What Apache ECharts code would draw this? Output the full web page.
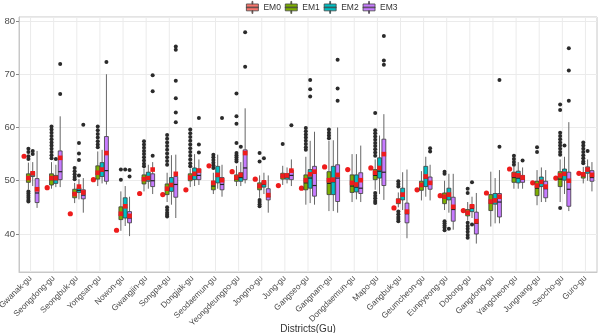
<!DOCTYPE html>
<html>
<head>
<meta charset="utf-8">
<script src="https://cdn.jsdelivr.net/npm/echarts@6/dist/echarts.min.js"></script>
<style>
  html, body { margin: 0; padding: 0; background: #fff; }
  #boxChart { width: 599px; height: 333px; }
</style>
</head>
<body>
<div id="boxChart"></div>
<script>
  const districts = ['Gwanak-gu', 'Seongdong-gu', 'Seongbuk-gu', 'Yongsan-gu', 'Nowon-gu', 'Gwangjin-gu',
    'Songpa-gu', 'Dongjak-gu', 'Seodaemun-gu', 'Yeongdeungpo-gu', 'Jongno-gu', 'Jung-gu', 'Gangseo-gu',
    'Gangnam-gu', 'Dongdaemun-gu', 'Mapo-gu', 'Gangbuk-gu', 'Geumcheon-gu', 'Eunpyeong-gu', 'Dobong-gu',
    'Gangdong-gu', 'Yangcheon-gu', 'Jungnang-gu', 'Seocho-gu', 'Guro-gu']
  const yTicks = [40, 50, 60, 70, 80]

  // EM0 is a single value per district (red dot)
  const em0Values = [54.6, 48.7, 43.8, 50.2, 40.7, 47.6, 47.4, 48.3, 52.8, 51.7, 50.3, 49.1, 48.6,
    52.6, 52.1, 52.4, 44.9, 48.3, 47.2, 44.4, 47.7, 52.2, 49.6, 50.5, 51.4]

  // [lower whisker, Q1, median, Q3, upper whisker]
  const em1Box = [
    [48.3, 49.7, 50.4, 51.3, 53.4], [48.5, 49.2, 50.2, 51.3, 53.5], [45.8, 46.8, 47.6, 48.4, 49.6],
    [49.0, 50.3, 51.3, 52.8, 55.5], [40.6, 42.7, 43.6, 45.1, 48.0], [48.0, 49.4, 50.2, 51.1, 52.3],
    [46.0, 47.4, 48.2, 49.4, 51.5], [48.8, 50.0, 50.6, 51.3, 52.3], [47.5, 48.3, 49.0, 49.9, 51.5],
    [49.0, 49.9, 50.3, 51.1, 52.8], [46.8, 48.3, 48.8, 49.6, 51.0], [49.2, 50.3, 50.8, 51.4, 52.8],
    [45.5, 48.3, 49.6, 51.1, 54.5], [44.3, 47.4, 49.5, 51.7, 57.5], [46.0, 47.8, 49.0, 51.1, 55.0],
    [48.3, 50.2, 51.0, 52.1, 54.0], [45.0, 45.7, 46.1, 46.6, 47.8], [46.3, 48.2, 49.0, 49.9, 51.8],
    [44.5, 45.7, 46.7, 47.7, 50.0], [42.5, 43.4, 44.0, 44.6, 46.0], [41.4, 44.4, 45.8, 47.4, 51.7],
    [48.5, 49.7, 50.6, 51.6, 52.8], [45.4, 47.2, 48.6, 49.9, 52.0], [46.0, 48.9, 50.3, 51.7, 54.0],
    [49.5, 50.5, 50.9, 51.4, 52.6]]
  const em1Mean = [50.5, 50.5, 47.5, 51.5, 43.8, 50.3, 48.5, 50.6, 49.6, 50.6, 49.0, 50.9, 50.1,
    50.1, 49.6, 51.5, 46.2, 49.2, 47.0, 44.0, 46.1, 51.1, 49.1, 51.0, 51.2]
  const em1Outliers = [
    [56.0, 55.4, 54.6, 54.1, 48.0, 47.6, 47.2, 46.8, 46.4, 46.1],
    [60.2, 59.6, 59.0, 58.4, 57.8, 57.2, 56.6, 56.0, 55.4, 54.8, 54.2],
    [52.4, 51.8, 51.2, 50.7, 50.3],
    [60.2, 59.5, 58.8, 58.1, 57.4, 56.8, 56.3],
    [52.1, 50.2],
    [57.4, 56.8, 56.2, 55.6, 55.0, 54.4, 53.8, 53.2, 52.7],
    [58.6, 57.9, 57.2, 56.5, 55.8, 55.1, 54.4, 53.7, 53.0, 45.0, 44.5, 44.0, 43.6, 43.3],
    [59.6, 58.9, 58.2, 57.5, 56.8, 56.1, 55.4, 54.7, 54.0, 53.3, 52.7],
    [54.9, 54.4, 53.9, 53.4, 52.9, 52.4],
    [66.4, 62.1, 60.7, 57.1, 55.2, 54.8, 54.4, 54.0, 53.6],
    [55.2, 53.6, 46.4, 46.0, 45.6, 45.2],
    [56.9],
    [59.9, 59.3, 58.7, 58.1, 57.5, 56.9, 56.3, 55.8],
    [59.6, 59.0, 58.5, 58.0],
    [],
    [62.7, 59.5, 58.9, 58.3, 57.7, 57.1, 56.5, 55.9, 55.3, 54.7, 47.7, 47.2, 46.7, 46.2, 45.8],
    [49.9, 49.4, 48.9, 44.2, 43.7, 43.2, 42.8, 42.4],
    [],
    [51.7, 51.3, 42.4, 42.0, 41.6, 41.2, 40.7],
    [48.5, 47.7, 42.1, 41.5, 41.0, 40.4, 39.8, 39.3],
    [],
    [54.7, 54.1, 53.5, 53.0],
    [56.3, 55.4],
    [64.3, 63.3, 59.0, 58.4, 57.8, 57.2, 56.6, 56.0, 55.4, 54.9, 44.9],
    [57.2, 56.6, 56.0, 55.4, 54.8, 54.2, 53.6, 53.3]]

  const em2Box = [
    [49.0, 50.8, 51.2, 51.7, 53.5], [48.8, 49.5, 50.2, 51.0, 53.0], [46.5, 47.8, 48.2, 48.7, 50.3],
    [49.5, 50.8, 51.8, 53.4, 55.8], [41.5, 43.0, 45.0, 46.8, 49.0], [48.5, 49.9, 50.6, 51.6, 53.0],
    [45.5, 48.0, 49.0, 50.6, 54.8], [49.0, 50.2, 51.0, 52.4, 55.0], [48.5, 49.6, 50.8, 52.7, 54.9],
    [49.0, 49.9, 50.6, 51.5, 53.5], [47.5, 48.8, 49.3, 49.9, 51.5], [49.5, 50.3, 50.7, 51.3, 52.5],
    [45.8, 48.6, 50.5, 52.1, 57.5], [44.3, 47.4, 49.8, 52.7, 57.6], [46.5, 47.9, 48.8, 51.1, 55.0],
    [47.5, 50.5, 51.8, 54.3, 58.5], [44.5, 46.4, 47.2, 48.6, 51.6], [47.0, 48.9, 50.5, 52.7, 54.5],
    [44.0, 46.4, 47.2, 48.6, 51.3], [43.0, 44.2, 44.8, 45.5, 47.0], [42.0, 45.6, 46.5, 47.6, 50.5],
    [48.5, 49.6, 50.5, 51.8, 53.5], [46.0, 48.9, 49.6, 50.7, 52.5], [47.5, 50.1, 51.0, 52.2, 54.5],
    [50.0, 51.4, 51.9, 52.6, 54.0]]
  const em2Mean = [51.4, 50.5, 48.9, 52.1, 45.2, 50.5, 49.2, 51.3, 51.1, 51.1, 49.7, 51.0, 51.2,
    50.2, 49.3, 52.4, 47.4, 50.8, 47.4, 45.2, 46.3, 51.0, 49.8, 51.3, 52.1]
  const em2Outliers = [
    [55.6, 55.0], [54.1], [57.1, 55.1, 53.9, 51.0], [], [52.1], [], [], [], [], [56.4], [54.2], [],
    [68.9, 67.2, 65.8], [], [], [], [], [], [41.0], [49.7, 41.8], [], [], [], [56.6], [55.6]]

  const em3Box = [
    [44.9, 45.9, 47.7, 50.4, 55.6], [48.8, 50.2, 51.7, 55.6, 62.1], [44.0, 46.6, 47.3, 48.3, 50.5],
    [49.3, 49.9, 51.9, 58.3, 70.0], [39.6, 42.1, 43.0, 44.2, 47.0], [47.5, 48.9, 50.0, 51.3, 53.5],
    [43.0, 46.9, 49.3, 50.8, 54.9], [49.2, 50.2, 51.0, 52.2, 54.0], [47.0, 48.3, 49.3, 50.6, 53.0],
    [49.5, 50.2, 52.4, 55.8, 63.6], [44.0, 46.4, 47.0, 48.5, 51.0], [49.0, 50.2, 51.0, 52.0, 54.0],
    [45.5, 47.1, 49.1, 52.7, 59.2], [44.0, 46.1, 50.5, 53.0, 60.0], [46.0, 47.6, 48.6, 51.5, 56.6],
    [46.4, 49.1, 51.6, 57.8, 62.5], [39.2, 42.1, 43.8, 45.8, 52.1], [46.3, 48.4, 49.6, 50.7, 53.0],
    [40.8, 42.4, 44.6, 46.9, 51.3], [38.2, 40.0, 42.0, 44.1, 47.7], [42.0, 43.2, 46.0, 47.6, 52.0],
    [48.5, 49.7, 50.3, 51.0, 52.5], [46.0, 46.8, 48.5, 49.9, 52.0], [44.3, 45.2, 48.4, 51.6, 61.0],
    [48.0, 49.9, 50.6, 51.9, 53.5]]
  const em3Mean = [48.4, 54.3, 47.8, 55.2, 43.4, 52.1, 51.3, 51.9, 50.1, 55.2, 47.3, 51.9, 51.7,
    51.1, 50.1, 55.0, 44.2, 49.6, 45.1, 42.4, 47.0, 50.6, 48.9, 50.0, 51.1]
  const em3Outliers = [
    [], [71.9, 66.3], [60.5], [72.3], [52.0, 50.8], [69.8, 66.8, 54.7],
    [75.2, 74.6, 68.8, 65.5, 62.8, 61.0], [61.8, 56.8, 55.3], [61.8], [77.9, 71.4], [], [60.4], [],
    [72.7, 67.3, 65.0], [], [77.2, 72.6, 71.8], [], [56.1, 55.5], [], [], [68.9, 56.4], [53.8], [],
    [74.9, 70.7, 65.0], []]

  const names = ['EM0', 'EM1', 'EM2', 'EM3']
  const colors = ['#F8766D', '#7CAE00', '#00BFC4', '#C77CFF']
  const markRed = '#EE1C1C'

  // horizontal position of a group inside its category (ggplot dodge 0.75, 4 groups)
  function slotOffset(slot, band) {
    return (-0.375 + 0.1875 * (slot + 0.5)) * band
  }

  function boxSeries(slot, box, mean) {
    return {
      name: names[slot],
      type: 'custom',
      z: 3,
      itemStyle: { color: colors[slot] },
      encode: { x: 0, y: [1, 5] },
      data: box.map((b, i) => [i].concat(b, [mean[i]])),
      renderItem: function (params, api) {
        const i = api.value(0)
        const band = api.size([1, 0])[0]
        const cx = api.coord([i, 0])[0] + slotOffset(slot, band)
        const w = band * 0.1875 * 0.9
        const y = [1, 2, 3, 4, 5, 6].map(d => api.coord([i, api.value(d)])[1])
        return {
          type: 'group',
          children: [
            { type: 'line', shape: { x1: cx, y1: y[0], x2: cx, y2: y[1] }, style: { stroke: '#666', lineWidth: 1 } },
            { type: 'line', shape: { x1: cx, y1: y[3], x2: cx, y2: y[4] }, style: { stroke: '#666', lineWidth: 1 } },
            {
              type: 'rect', shape: { x: cx - w / 2, y: y[3], width: w, height: y[1] - y[3] },
              style: { fill: colors[slot], stroke: '#3a3a3a', lineWidth: 0.8 }
            },
            { type: 'line', shape: { x1: cx - w / 2, y1: y[2], x2: cx + w / 2, y2: y[2] }, style: { stroke: '#222', lineWidth: 1.2 } },
            { type: 'rect', shape: { x: cx - 2.3, y: y[5] - 2.3, width: 4.6, height: 4.6 }, style: { fill: markRed } }
          ]
        }
      }
    }
  }

  function outlierSeries(slot, outliers) {
    const data = []
    outliers.forEach((list, i) => list.forEach(v => data.push([i, v])))
    return {
      type: 'custom',
      z: 2,
      encode: { x: 0, y: 1 },
      data: data,
      renderItem: function (params, api) {
        const band = api.size([1, 0])[0]
        const p = api.coord([api.value(0), api.value(1)])
        return {
          type: 'circle',
          shape: { cx: p[0] + slotOffset(slot, band), cy: p[1], r: 2 },
          style: { fill: '#2b2b2b' }
        }
      }
    }
  }

  const option = {
    backgroundColor: '#fff',
    animation: false,
    legend: {
      data: names,
      left: 241,
      top: -4,
      itemWidth: 12,
      itemHeight: 12,
      itemGap: 4,
      icon: 'path://M0,3H14V11H0Z M6.5,0H7.5V3H6.5Z M6.5,11H7.5V14H6.5Z M0,6.6H14V7.4H0Z',
      itemStyle: { borderColor: '#444', borderWidth: 0.8 },
      textStyle: { fontSize: 8.5, color: '#333' }
    },
    grid: {
      show: true,
      left: 19,
      right: 2,
      top: 17,
      bottom: 61,
      outerBoundsMode: 'none',
      containLabel: false,
      borderColor: '#c8c8c8',
      borderWidth: 1
    },
    xAxis: {
      type: 'category',
      data: districts,
      boundaryGap: true,
      name: 'Districts(Gu)',
      nameLocation: 'middle',
      nameGap: 52,
      nameMoveOverlap: false,
      nameTextStyle: { fontSize: 10, color: '#333' },
      axisLine: { lineStyle: { color: '#c8c8c8' } },
      axisTick: { alignWithLabel: true, length: 3, lineStyle: { color: '#888' } },
      axisLabel: { rotate: 45, fontSize: 8.3, color: '#4d4d4d', margin: 5, interval: 0 },
      splitLine: { show: false }
    },
    yAxis: {
      type: 'value',
      min: 32.86,
      max: 80.75,
      splitNumber: 5,
      name: 'Value',
      nameLocation: 'middle',
      nameGap: 20,
      nameMoveOverlap: false,
      nameTextStyle: { fontSize: 10, color: '#333' },
      axisLine: { show: true, lineStyle: { color: '#c8c8c8' } },
      axisTick: { show: true, length: 3, lineStyle: { color: '#888' } },
      axisLabel: {
        fontSize: 9.5,
        color: '#4d4d4d',
        margin: 4,
        showMinLabel: false,
        showMaxLabel: false,
        formatter: function (v) {
          return yTicks.indexOf(v) >= 0 ? String(v) : ''
        }
      },
      splitLine: { show: true, lineStyle: { color: '#ebebeb', width: 1 } }
    },
    series: [
      {
        // vertical grid lines at the category centres
        type: 'custom',
        z: 0,
        silent: true,
        encode: { x: 0, y: 1 },
        data: districts.map((d, i) => [i, 50]),
        renderItem: function (params, api) {
          const x = api.coord([api.value(0), 50])[0]
          const cs = params.coordSys
          return {
            type: 'line',
            shape: { x1: x, y1: cs.y, x2: x, y2: cs.y + cs.height },
            style: { stroke: '#ebebeb', lineWidth: 1 }
          }
        }
      },
      {
        name: 'EM0',
        type: 'custom',
        z: 3,
        itemStyle: { color: colors[0] },
        encode: { x: 0, y: 1 },
        data: em0Values.map((v, i) => [i, v]),
        renderItem: function (params, api) {
          const band = api.size([1, 0])[0]
          const p = api.coord([api.value(0), api.value(1)])
          return {
            type: 'circle',
            shape: { cx: p[0] + slotOffset(0, band), cy: p[1], r: 2.6 },
            style: { fill: markRed }
          }
        }
      },
      outlierSeries(1, em1Outliers),
      outlierSeries(2, em2Outliers),
      outlierSeries(3, em3Outliers),
      boxSeries(1, em1Box, em1Mean),
      boxSeries(2, em2Box, em2Mean),
      boxSeries(3, em3Box, em3Mean)
    ]
  }

  const chart = echarts.init(document.getElementById('boxChart'), null, { renderer: 'canvas' })
  chart.setOption(option)
</script>
</body>
</html>
